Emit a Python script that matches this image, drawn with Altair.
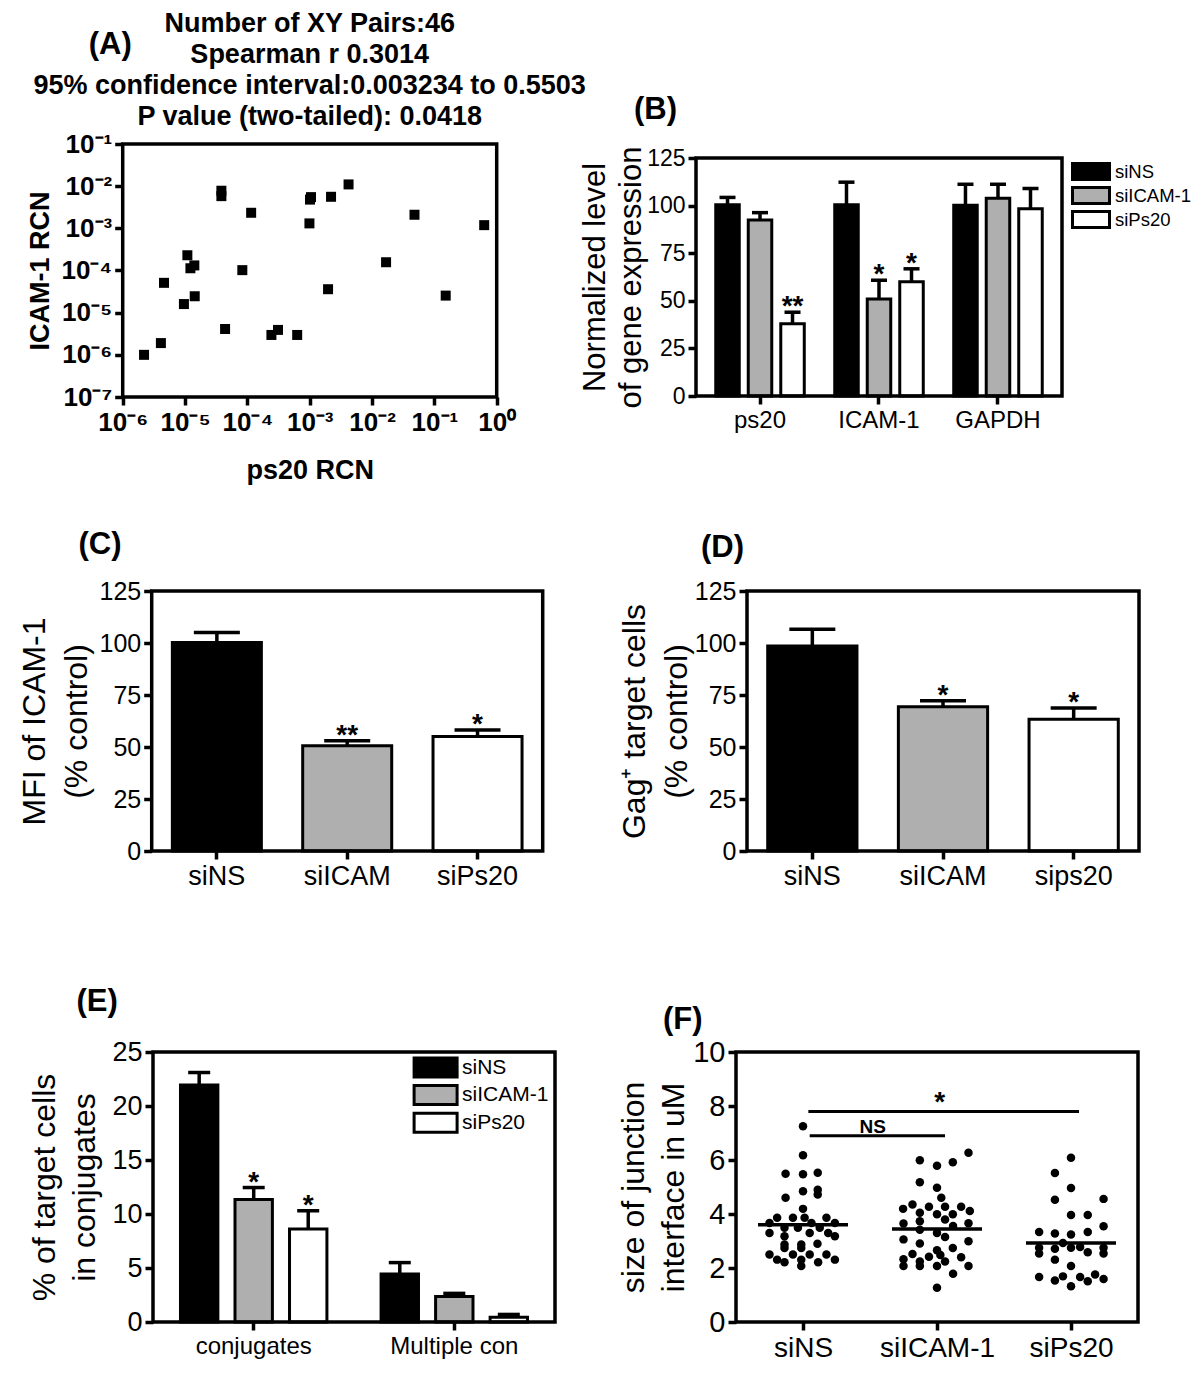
import altair as alt
import pandas as pd

SANS = "Liberation Sans, Arial, Helvetica, sans-serif"
LABEL = "Liberation Sans Narrow, Arial Narrow, Liberation Sans, Arial, sans-serif"
FILLS = ["#000000", "#afafaf", "#ffffff"]

# ---------------- Panel A data ----------------
a_ps20_rcn = [2.2e-6, 4.1e-6, 4.6e-6, 9.6e-6, 1.09e-5, 1.22e-5, 1.41e-5, 1.43e-5,
              3.83e-5, 3.83e-5, 4.39e-5, 8.3e-5, 1.15e-4, 2.43e-4, 3.1e-4, 6.3e-4,
              9.9e-4, 1.01e-3, 1.05e-3, 2.2e-3, 4.2e-3, 1.97e-3, 1.68e-2, 4.8e-2,
              1.52e-1, 6.3e-1]
a_icam_rcn = [1.0e-6, 1.9e-6, 5.1e-5, 1.6e-5, 2.3e-4, 1.13e-4, 1.32e-4, 2.45e-5,
              7.8e-3, 5.8e-3, 4.1e-6, 1.02e-4, 2.34e-3, 2.96e-6, 3.9e-6, 2.96e-6,
              1.31e-3, 4.8e-3, 5.5e-3, 5.6e-3, 1.1e-2, 3.6e-5, 1.57e-4, 2.1e-3,
              2.54e-5, 1.19e-3]
a_title = ["Number of XY Pairs:46", "Spearman r 0.3014",
           "95% confidence interval:0.003234 to 0.5503",
           "P value (two-tailed): 0.0418"]
a_x_ticks = [1e-6, 1e-5, 1e-4, 1e-3, 1e-2, 1e-1, 1e0]
a_x_labels = ["10⁻⁶", "10⁻⁵", "10⁻⁴", "10⁻³", "10⁻²", "10⁻¹", "10⁰"]
a_y_ticks = [1e-7, 1e-6, 1e-5, 1e-4, 1e-3, 1e-2, 1e-1]
a_y_labels = ["10⁻⁷", "10⁻⁶", "10⁻⁵", "10⁻⁴", "10⁻³", "10⁻²", "10⁻¹"]

# ---------------- Panel B data ----------------
b_genes = ["ps20", "ICAM-1", "GAPDH"]
b_groups = ["siNS", "siICAM-1", "siPs20"]
b_mean_ps20 = [100.5, 92.5, 38.0]
b_top_ps20 = [104.3, 96.3, 44.0]
b_mean_icam = [100.5, 51.0, 60.0]
b_top_icam = [112.3, 60.8, 66.8]
b_mean_gapdh = [100.2, 103.8, 98.4]
b_top_gapdh = [111.2, 111.2, 109.0]
b_star_ps20 = ["", "", "**"]
b_star_icam = ["", "*", "*"]
b_star_gapdh = ["", "", ""]

# ---------------- Panel C data ----------------
c_groups = ["siNS", "siICAM", "siPs20"]
c_mean = [100.3, 50.6, 55.0]
c_top = [105.1, 53.0, 58.2]
c_star = ["", "**", "*"]

# ---------------- Panel D data ----------------
d_groups = ["siNS", "siICAM", "sips20"]
d_mean = [98.6, 69.4, 63.4]
d_top = [106.6, 72.2, 68.7]
d_star = ["", "*", "*"]

# ---------------- Panel E data ----------------
e_cats = ["conjugates", "Multiple con"]
e_groups = ["siNS", "siICAM-1", "siPs20"]
e_mean_conj = [21.95, 11.35, 8.6]
e_top_conj = [23.1, 12.45, 10.3]
e_mean_multi = [4.45, 2.35, 0.45]
e_top_multi = [5.5, 2.65, 0.7]
e_star_conj = ["", "*", "*"]
e_star_multi = ["", "", ""]

# ---------------- Panel F data ----------------
f_groups = ["siNS", "siICAM-1", "siPs20"]
f_sins_values = [7.25, 6.18, 5.49, 5.47, 5.53, 4.84, 4.90, 4.72, 4.60, 4.19,
                 3.86, 3.86, 3.86, 3.86, 3.67, 3.67, 3.67, 3.49, 3.49, 3.49,
                 3.30, 3.30, 3.30, 3.18, 3.18, 2.87, 2.87, 2.90, 2.74, 2.74,
                 2.50, 2.50, 2.50, 2.50, 2.31, 2.31, 2.31, 2.21, 2.21, 2.07]
f_sins_jitter = [0.0, 0.0, -0.13, 0.0, 0.11, 0.0, 0.11, 0.11, -0.13, 0.0,
                 -0.193, -0.075, 0.012, 0.175, -0.25, 0.063, 0.238, -0.138, -0.038, 0.125,
                 -0.25, 0.05, 0.188, 0.238, -0.138, -0.013, -0.138, 0.108, -0.138, -0.013,
                 -0.25, -0.075, 0.05, 0.175, -0.193, -0.013, 0.238, -0.138, 0.113, -0.013]
f_sicam_values = [6.27, 5.99, 5.79, 5.92, 5.18, 4.97, 4.60, 4.19, 4.35, 4.27,
                  4.27, 4.27, 4.11, 4.05, 3.99, 3.99, 3.80, 3.65, 3.73, 3.56,
                  3.66, 3.42, 3.30, 3.15, 3.06, 2.91, 2.99, 2.66, 2.74, 2.52,
                  2.42, 2.32, 2.48, 2.40, 2.24, 2.24, 2.07, 2.07, 1.79, 2.07,
                  2.07, 1.27]
f_sicam_jitter = [0.235, -0.128, 0.0, 0.118, -0.128, 0.0, 0.032, -0.253, -0.183, -0.06,
                  0.06, 0.18, 0.245, -0.128, 0.0, 0.118, 0.06, -0.25, -0.128, 0.12,
                  0.235, -0.128, 0.0, 0.06, -0.25, -0.128, 0.235, 0.0, 0.118, -0.183,
                  -0.06, -0.25, 0.025, 0.18, -0.128, 0.06, -0.25, 0.0, 0.12, 0.235,
                  -0.128, 0.0]
f_sips_values = [6.08, 5.52, 4.96, 4.53, 4.56, 3.96, 3.96, 3.55, 3.33, 3.28,
                 3.24, 3.33, 2.93, 2.75, 2.54, 2.71, 2.75, 2.78, 2.58, 2.75,
                 2.54, 2.31, 2.07, 1.67, 1.54, 1.69, 1.67, 1.51, 1.76, 1.59,
                 1.32]
f_sips_jitter = [0.0, -0.12, 0.0, -0.12, 0.243, 0.0, 0.125, 0.243, -0.238, -0.12,
                 0.0, 0.125, -0.06, -0.238, -0.238, -0.12, 0.0, 0.068, 0.125, 0.243,
                 0.243, -0.12, 0.0, -0.238, -0.12, -0.06, 0.068, 0.125, 0.18, 0.243,
                 0.0]
f_means = [3.60, 3.44, 2.93]
f_sig_from = [0.04, 0.05]
f_sig_to = [2.06, 1.06]
f_sig_y = [7.8, 6.9]
f_sig_text = ["*", "NS"]
f_sig_text_x = [1.02, 0.52]
f_sig_text_y = [8.39, 7.27]

# ---------------- page geometry (page pixels: left, right, top, bottom of each frame) -----
VIEW_W, VIEW_H = 1184, 1369
GEO = {
    "A": (122.7, 496.7, 144.0, 397.0),
    "B": (696.0, 1062.0, 158.0, 396.0),
    "C": (151.7, 542.7, 591.0, 851.0),
    "D": (747.0, 1139.0, 591.0, 851.0),
    "E": (153.0, 555.0, 1052.0, 1322.0),
    "F": (736.0, 1138.0, 1052.0, 1322.0),
}


def v(p):
    """page pixel -> view pixel (page has an 8px margin)"""
    return p - 8


def xr(k):
    x0, x1, _, _ = GEO[k]
    return [v(x0), v(x1)]


def yr(k):
    _, _, y0, y1 = GEO[k]
    return [v(y1), v(y0)]


# ---------------- helpers ----------------
def y_axis(k, values, title, first_line_dx, label_size, title_size, line_h,
           label_font=LABEL, weight="normal", label_expr=None):
    x0, x1, y0, y1 = GEO[k]
    kw = {}
    if label_expr is not None:
        kw["labelExpr"] = label_expr
    return alt.Axis(orient="left", offset=-v(x0), values=values, title=title,
                    titleX=first_line_dx, titleY=v((y0 + y1) / 2),
                    titleAngle=270, titleAlign="center", titleBaseline="middle",
                    titleFont=SANS, titleFontSize=title_size, titleFontWeight=weight,
                    titleLineHeight=line_h, titleColor="black",
                    labelFont=label_font, labelFontSize=label_size, labelFontWeight=weight,
                    labelColor="black", labelPadding=3, labelFlush=False, labelOverlap=False,
                    tickColor="black", tickWidth=3.5, tickSize=8, domain=False, grid=False,
                    **kw)


def x_axis(k, label_size, label_font=LABEL, weight="normal", values=None, label_expr=None,
           title=None, title_dy=None, title_size=None):
    x0, x1, y0, y1 = GEO[k]
    kw = {}
    if values is not None:
        kw["values"] = values
    if label_expr is not None:
        kw["labelExpr"] = label_expr
    if title is not None:
        kw.update(title=title, titleX=v((x0 + x1) / 2), titleY=title_dy, titleAlign="center",
                  titleBaseline="middle", titleFont=SANS, titleFontSize=title_size,
                  titleFontWeight=weight, titleColor="black")
    else:
        kw["title"] = None
    return alt.Axis(orient="bottom", offset=v(y1) - VIEW_H,
                    labelFont=label_font, labelFontSize=label_size, labelFontWeight=weight,
                    labelColor="black", labelAngle=0, labelPadding=4, labelFlush=False,
                    labelOverlap=False, tickColor="black", tickWidth=3.5, tickSize=8,
                    domain=False, grid=False, **kw)


def panel_label(txt, left, cy):
    return alt.Chart(pd.DataFrame({"t": [txt]})).mark_text(
        font=SANS, fontSize=31, fontWeight="bold", align="left", baseline="middle",
        color="black").encode(text="t:N", x=alt.value(v(left)), y=alt.value(v(cy)))


def frame(k):
    x0, x1, y0, y1 = GEO[k]
    return alt.Chart(pd.DataFrame({"f": [0]})).mark_rect(
        fillOpacity=0, stroke="black", strokeWidth=3.5).encode(
        x=alt.value(v(x0)), x2=alt.value(v(x1)), y=alt.value(v(y0)), y2=alt.value(v(y1)))


def bar_panel(k, df, xfield, xsort, pad_in, pad_out, xo_scale, groups, ydomain, yaxis, cap,
              legend, xlabel_size):
    def enc(yfield):
        e = dict(
            x=alt.X(f"{xfield}:N", sort=xsort,
                    scale=alt.Scale(range=xr(k), paddingInner=pad_in, paddingOuter=pad_out),
                    axis=x_axis(k, xlabel_size)),
            y=alt.Y(f"{yfield}:Q", scale=alt.Scale(domain=ydomain, range=yr(k), nice=False),
                    axis=yaxis),
        )
        if xo_scale is not None:
            e["xOffset"] = alt.XOffset("group:N", sort=groups, scale=xo_scale)
        return e

    bars = alt.Chart(df).mark_bar(stroke="black", strokeWidth=3).encode(
        fill=alt.Fill("group:N", sort=groups,
                      scale=alt.Scale(domain=groups, range=FILLS), legend=legend),
        **enc("mean"))
    err = alt.Chart(df).mark_rule(color="black", strokeWidth=3.5).encode(
        y2="top:Q", **enc("mean"))
    caps = alt.Chart(df).mark_tick(color="black", orient="horizontal", size=cap,
                                   thickness=3.5, opacity=1).encode(**enc("top"))
    stars = alt.Chart(df).mark_text(font=SANS, fontSize=28, fontWeight="bold",
                                    baseline="alphabetic", dy=3, color="black").encode(
        text="star:N", **enc("top"))
    return [bars, err, caps, stars, frame(k)]


# ---------------- Panel A ----------------
a_df = pd.DataFrame({"ps20": a_ps20_rcn, "icam": a_icam_rcn})
a_x_expr = "[" + ",".join("'%s'" % s for s in a_x_labels) + "][round(log(datum.value)/LN10)+6]"
a_y_expr = "[" + ",".join("'%s'" % s for s in a_y_labels) + "][round(log(datum.value)/LN10)+7]"
a_points = alt.Chart(a_df).mark_square(size=100, color="black", opacity=1).encode(
    x=alt.X("ps20:Q", scale=alt.Scale(type="log", domain=[1e-6, 1], range=xr("A"), nice=False),
            axis=x_axis("A", 26, label_font=SANS, weight="bold", values=a_x_ticks,
                        label_expr=a_x_expr, title="ps20 RCN", title_dy=73, title_size=27)),
    y=alt.Y("icam:Q", scale=alt.Scale(type="log", domain=[1e-7, 1e-1], range=yr("A"),
                                      nice=False),
            axis=y_axis("A", a_y_ticks, "ICAM-1 RCN", -82.7, 26, 27, 30,
                        label_font=SANS, weight="bold", label_expr=a_y_expr)))
a_stats = alt.Chart(pd.DataFrame({"s": [0]})).mark_text(
    font=SANS, fontSize=27, fontWeight="bold", lineHeight=31, align="center",
    baseline="middle", color="black").encode(
    text=alt.value(a_title), x=alt.value(v(309.7)), y=alt.value(v(24)))
panel_a = alt.layer(a_points, frame("A"), a_stats, panel_label("(A)", 88.8, 45))

# ---------------- Panel B ----------------
b_rows = []
for g, means, tops, stars in [("ps20", b_mean_ps20, b_top_ps20, b_star_ps20),
                              ("ICAM-1", b_mean_icam, b_top_icam, b_star_icam),
                              ("GAPDH", b_mean_gapdh, b_top_gapdh, b_star_gapdh)]:
    for grp, m, t, s in zip(b_groups, means, tops, stars):
        b_rows.append({"gene": g, "group": grp, "mean": m, "top": t, "star": s})
b_df = pd.DataFrame(b_rows)
b_legend = alt.Legend(title=None, orient="none", legendX=v(1081.5), legendY=v(162),
                      direction="vertical", symbolType="M-2.3125,-1H2.3125V1H-2.3125Z",
                      symbolSize=256, symbolStrokeColor="black", symbolStrokeWidth=3,
                      symbolOpacity=1, labelFont=LABEL, labelFontSize=18.5,
                      labelColor="black", labelOffset=14.5, rowPadding=-6.7, padding=0)
b_layers = bar_panel(
    "B", b_df, "gene", b_genes, 0.256, 0.166,
    alt.Scale(paddingInner=0.277, paddingOuter=0), b_groups, [0, 125],
    y_axis("B", [0, 25, 50, 75, 100, 125], ["Normalized level", "of gene expression"],
           -101, 23, 31, 36), 16, b_legend, 24)
panel_b = alt.layer(*b_layers, panel_label("(B)", 634, 110))

# ---------------- Panel C ----------------
c_df = pd.DataFrame({"cond": c_groups, "group": c_groups, "mean": c_mean, "top": c_top,
                     "star": c_star})
c_layers = bar_panel(
    "C", c_df, "cond", c_groups, 0.317, 0.1585, None, c_groups, [0, 125],
    y_axis("C", [0, 25, 50, 75, 100, 125], ["MFI of ICAM-1", "(% control)"],
           -117.7, 25, 32, 42.5), 46, None, 27)
panel_c = alt.layer(*c_layers, panel_label("(C)", 78.5, 545))

# ---------------- Panel D ----------------
d_df = pd.DataFrame({"cond": d_groups, "group": d_groups, "mean": d_mean, "top": d_top,
                     "star": d_star})
d_layers = bar_panel(
    "D", d_df, "cond", d_groups, 0.317, 0.1585, None, d_groups, [0, 125],
    y_axis("D", [0, 25, 50, 75, 100, 125], ["Gag⁺ target cells", "(% control)"],
           -113, 25, 32, 42.5), 46, None, 27)
panel_d = alt.layer(*d_layers, panel_label("(D)", 701, 548))

# ---------------- Panel E ----------------
e_rows = []
for cat, means, tops, stars in [("conjugates", e_mean_conj, e_top_conj, e_star_conj),
                                ("Multiple con", e_mean_multi, e_top_multi, e_star_multi)]:
    for grp, m, t, s in zip(e_groups, means, tops, stars):
        e_rows.append({"cat": cat, "group": grp, "mean": m, "top": t, "star": s})
e_df = pd.DataFrame(e_rows)
e_legend = alt.Legend(title=None, orient="none", legendX=v(424.6), legendY=v(1056.5),
                      direction="vertical", symbolType="M-2.263,-1H2.263V1H-2.263Z",
                      symbolSize=361, symbolStrokeColor="black", symbolStrokeWidth=3,
                      symbolOpacity=1, labelFont=LABEL, labelFontSize=21,
                      labelColor="black", labelOffset=15.4, rowPadding=-4.4, padding=0)
e_layers = bar_panel(
    "E", e_df, "cat", e_cats, 0.27, 0.137,
    alt.Scale(paddingInner=0.314, paddingOuter=0), e_groups, [0, 25],
    y_axis("E", [0, 5, 10, 15, 20, 25], ["% of target cells", "in conjugates"],
           -109, 27, 32, 40), 22, e_legend, 24)
panel_e = alt.layer(*e_layers, panel_label("(E)", 76.5, 1002))

# ---------------- Panel F ----------------
f_rows = []
for gi, (vals, jit) in enumerate([(f_sins_values, f_sins_jitter),
                                  (f_sicam_values, f_sicam_jitter),
                                  (f_sips_values, f_sips_jitter)]):
    for val, j in zip(vals, jit):
        f_rows.append({"group": f_groups[gi], "x": gi + j, "v": val})
f_df = pd.DataFrame(f_rows)
f_mean_df = pd.DataFrame({"x": list(range(len(f_groups))), "v": f_means})
f_sig_df = pd.DataFrame({"x": f_sig_from, "x2": f_sig_to, "v": f_sig_y})
f_star_df = pd.DataFrame({"x": f_sig_text_x[:1], "v": f_sig_text_y[:1], "t": f_sig_text[:1]})
f_ns_df = pd.DataFrame({"x": f_sig_text_x[1:], "v": f_sig_text_y[1:], "t": f_sig_text[1:]})
f_x_expr = "[" + ",".join("'%s'" % s for s in f_groups) + "][datum.value]"
f_xaxis = x_axis("F", 28, values=[0, 1, 2], label_expr=f_x_expr)
f_yaxis = y_axis("F", [0, 2, 4, 6, 8, 10], ["size of junction", "interface in uM"],
                 -102.3, 29, 32, 40)


def f_enc():
    return dict(x=alt.X("x:Q", scale=alt.Scale(domain=[-0.5, 2.5], range=xr("F"),
                                               nice=False, zero=False), axis=f_xaxis),
                y=alt.Y("v:Q", scale=alt.Scale(domain=[0, 10], range=yr("F"), nice=False),
                        axis=f_yaxis))


f_points = alt.Chart(f_df).mark_circle(size=72, color="black", opacity=1).encode(**f_enc())
f_meanline = alt.Chart(f_mean_df).mark_tick(orient="horizontal", size=90, thickness=3.5,
                                            color="black", opacity=1).encode(**f_enc())
f_sig = alt.Chart(f_sig_df).mark_rule(color="black", strokeWidth=3).encode(
    x2="x2:Q", **f_enc())
f_star = alt.Chart(f_star_df).mark_text(font=SANS, fontSize=28, fontWeight="bold",
                                        baseline="alphabetic", dy=16, color="black").encode(
    text="t:N", **f_enc())
f_ns = alt.Chart(f_ns_df).mark_text(font=SANS, fontSize=19, fontWeight="bold",
                                    baseline="alphabetic", dy=7, color="black").encode(
    text="t:N", **f_enc())
panel_f = alt.layer(f_points, f_meanline, f_sig, f_star, f_ns, frame("F"),
                    panel_label("(F)", 663, 1020))

# ---------------- one view, every panel on its own independent scales ----------------
chart = alt.layer(panel_a, panel_b, panel_c, panel_d, panel_e, panel_f).resolve_scale(
    x="independent", y="independent", xOffset="independent", fill="independent"
).resolve_axis(x="independent", y="independent").resolve_legend(fill="independent")
chart = chart.properties(width=VIEW_W, height=VIEW_H, padding=0, background="white",
                         autosize=alt.AutoSizeParams(type="none")).configure_view(
    stroke="transparent")

chart.save("out.html", embed_options={"renderer": "svg", "actions": False})
